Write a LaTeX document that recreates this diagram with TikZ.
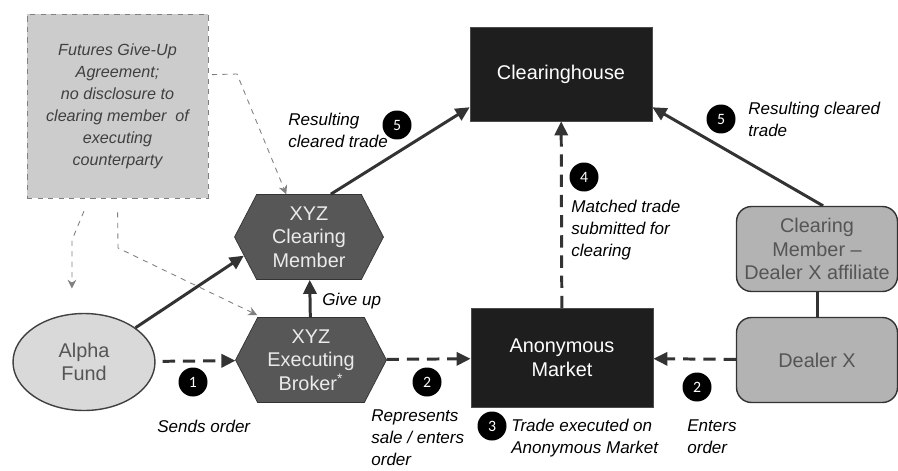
\documentclass[tikz,border=0pt]{standalone}
\usepackage{fontspec}
\setmainfont{Liberation Sans}
\newfontfamily\numfont{Carlito}
\usetikzlibrary{shapes.geometric,shapes.symbols,arrows.meta}
\definecolor{boxdark}{HTML}{1E1E1E}
\definecolor{hexgray}{HTML}{575757}
\definecolor{alphagray}{HTML}{D9D9D9}
\definecolor{dealergray}{HTML}{B3B3B3}
\definecolor{notegray}{HTML}{CCCCCC}
\definecolor{linegray}{HTML}{333333}
\definecolor{textgray}{HTML}{555555}
\newcommand\nodefont{\fontsize{11.3}{13.5}\selectfont}
\newcommand\lblfont{\fontsize{9.7}{12.5}\selectfont\itshape}
\newcommand\notefont{\fontsize{9.2}{12.5}\selectfont\itshape}
\begin{document}
\begin{tikzpicture}[x=0.02cm, y=-0.02cm, >={Triangle[length=8pt,width=7.5pt]},
  dark/.style={draw=black!70, fill=boxdark, text=white, minimum width=3.64cm, minimum height=1.9cm, align=center, font=\nodefont},
  hex/.style={signal, signal to=east and west, signal pointer angle=125, draw=black!80, fill=hexgray, text=white!92!black, minimum width=2.98cm, minimum height=1.7cm, inner sep=0pt, align=center, font=\nodefont},
  lite/.style={rounded corners=0.3cm, draw=black!80, line width=0.8pt, fill=dealergray, text=textgray, minimum width=3.22cm, minimum height=1.7cm, align=center, font=\nodefont},
  num/.style={circle, fill=black, text=white, minimum size=0.58cm, inner sep=0pt, font=\numfont\small},
  lbl/.style={anchor=north west, inner sep=0pt, align=left, font=\lblfont},
  flow/.style={->, line width=1.7pt, draw=linegray},
  order/.style={flow, dash pattern=on 7pt off 4.5pt},
  hint/.style={-{Stealth[length=5pt,width=5pt]}, draw=gray, dashed, line width=0.5pt}]
\useasboundingbox (0,0) rectangle (898,470);
% boxes
\node[draw=gray, dashed, fill=notegray, text=black!75, minimum width=3.62cm, minimum height=3.68cm, align=center, font=\notefont] (note) at (117.5,106) {Futures Give-Up\\Agreement;\\no disclosure to\\clearing member\ \ of\\executing\\counterparty};
\node[dark, minimum height=1.88cm] (ch) at (561,74) {Clearinghouse};
\node[dark, minimum height=1.98cm] (am) at (562,358) {Anonymous\\Market};
\node[hex] (cm) at (309,237) {XYZ\\Clearing\\Member};
\node[hex, minimum width=3.02cm] (eb) at (311,360) {XYZ\\Executing\\Broker\textsuperscript{*}};
\node[ellipse, draw=black!75, line width=0.8pt, fill=alphagray, text=textgray, minimum width=2.84cm, minimum height=1.94cm, align=center, font=\nodefont] (alpha) at (84,362) {Alpha\\Fund};
\node[lite] (aff) at (817,249) {Clearing\\Member --\\Dealer X affiliate};
\node[lite] (dealer) at (817,360) {Dealer X};
% connectors
\draw[flow] (alpha) -- (cm.196);
\draw[flow] (cm.63) -- (ch.200);
\draw[flow] (aff.82) -- (ch.-20);
\draw[line width=1.7pt, draw=linegray] (aff) -- (dealer);
\draw[flow] (eb) -- (cm);
\draw[order, shorten <=4pt] (alpha) -- (eb);
\draw[order] (eb) -- (am);
\draw[order] (dealer) -- (am);
\draw[order] (am) -- (ch);
\draw[hint, shorten <=2pt] (note.19) -- (237,74) -- (cm.118);
\draw[hint, shorten <=0.28cm, shorten >=0.5cm] (note.-107) -- (72,240) -- (alpha.104);
\draw[hint, shorten <=0.28cm, shorten >=3pt] (note.south) -- (118,248) -- (eb.139);
% step numbers
\foreach \n/\x/\y in {1/193/382, 2/427/382, 2/697/387, 3/492/426, 4/584/177, 5/397/125, 5/721/119}
{
    \node[num] (step\x) at (\x,\y) {\n};
}
% labels
\node[lbl] (res1) at (288,113) {Resulting\\cleared trade};
\node[lbl] (res2) at (748,102) {Resulting cleared\\trade};
\node[lbl] (match) at (571,200) {Matched trade\\submitted for\\clearing};
\node[lbl] (giveup) at (322,293) {Give up};
\node[lbl] (sends) at (157,420) {Sends order};
\node[lbl] (repr) at (371,409) {Represents\\sale / enters\\order};
\node[lbl] (exec) at (511,419) {Trade executed on\\Anonymous Market};
\node[lbl] (enters) at (687,419) {Enters\\order};
\end{tikzpicture}
\end{document}
